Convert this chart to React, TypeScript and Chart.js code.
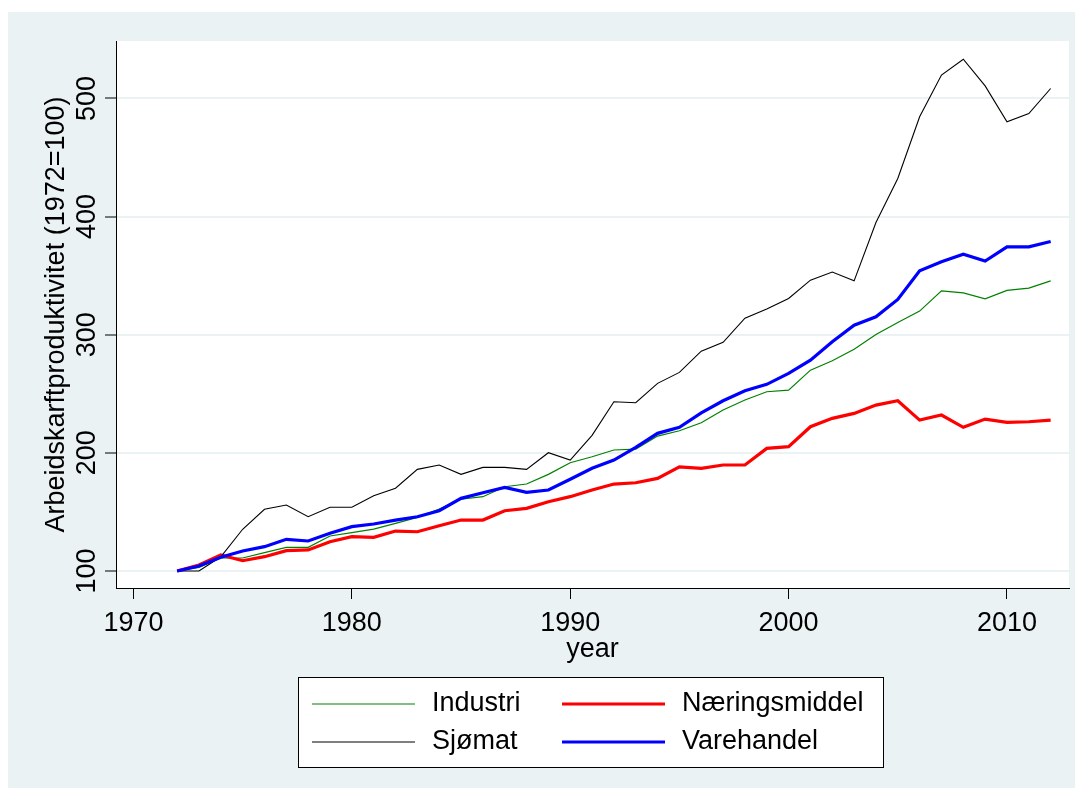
import React, { useEffect, useRef } from "react";
import { Chart, registerables } from "chart.js";

Chart.register(...registerables);

const years: number[] = [];
for (let y = 1972; y <= 2012; y++) years.push(y);

const industri = [100, 103, 111, 111, 115.5, 120, 120, 129.6, 132.4, 135.5, 140.3, 145.4, 152.5, 160.7, 162.9, 171.3, 173.6, 181.8, 191.6, 196.7, 202.4, 203.2, 214.2, 218.7, 225.5, 236.2, 244.7, 251.7, 253.1, 270, 277.9, 287.6, 300.2, 310.4, 320, 337.1, 335.4, 330.4, 337.5, 339.4, 345.6];
const naeringsmiddel = [100, 105.1, 113.5, 108.7, 112.1, 117.2, 117.8, 124.8, 129, 128.5, 133.8, 133.2, 138.3, 143.1, 143.1, 151, 153, 158.6, 162.9, 168.5, 173.6, 174.7, 178.4, 188.2, 186.9, 189.7, 189.7, 203.8, 205.2, 222.1, 229.2, 233.4, 240.4, 244.1, 227.7, 232, 221.6, 228.6, 225.8, 226.3, 227.7];
const sjomat = [100, 100, 112, 135.3, 152.2, 155.8, 145.9, 153.9, 153.9, 163.7, 170, 186, 189.7, 181.8, 187.7, 187.7, 186, 200.1, 193.9, 214.8, 243.2, 242.4, 258.8, 268.1, 286.1, 293.5, 314, 321.7, 330.7, 346.2, 353, 345.6, 395, 432.2, 484.5, 519.8, 533.2, 510.6, 480.2, 487.2, 508.4];
const varehandel = [100, 104.2, 111.6, 116.9, 120.6, 126.8, 125.4, 131.9, 137.5, 139.8, 143.1, 145.9, 151, 161.5, 166.2, 170.8, 166.6, 168.5, 177.6, 186.9, 193.9, 204.7, 216.5, 221.6, 233.9, 244.1, 252.5, 258, 267.2, 278.5, 294, 308.1, 315.2, 329.9, 354.1, 361.7, 368.2, 362.3, 374.4, 374.4, 378.9];

const xTicks = [1970, 1980, 1990, 2000, 2010];
const yTicks = [100, 200, 300, 400, 500];

const yTitle = "Arbeidskarftproduktivitet (1972=100)";
const xTitle = "year";

const seriesNames = ["Industri", "Næringsmiddel", "Sjømat", "Varehandel"];
const seriesColors = ["rgb(0,128,0)", "rgb(255,0,0)", "rgb(0,0,0)", "rgb(0,0,255)"];
const seriesWidths = [1.2, 3.2, 1.1, 3.2];

const BG = "#EAF2F3";
const FONT = '27px "Liberation Sans", Arial, sans-serif';

export default function App() {
  const ref = useRef<HTMLCanvasElement | null>(null);

  useEffect(() => {
    const canvas = ref.current;
    if (!canvas) return;
    const allSeries = [industri, naeringsmiddel, sjomat, varehandel];
    const drawOrder = [3, 2, 1, 0];

    const decor = {
      id: "decor",
      beforeDraw(chart: any) {
        const ctx = chart.ctx;
        const a = chart.chartArea;
        ctx.save();
        ctx.fillStyle = "#ffffff";
        ctx.fillRect(0, 0, chart.width, chart.height);
        ctx.fillStyle = BG;
        ctx.fillRect(8, 12, 1067, 776);
        ctx.fillStyle = "#ffffff";
        ctx.fillRect(a.left, a.top, a.right - a.left, a.bottom - a.top);
        ctx.restore();
      },
      afterDraw(chart: any) {
        const ctx = chart.ctx;
        const xs = chart.scales.x;
        const ys = chart.scales.y;
        const a = chart.chartArea;
        ctx.save();
        ctx.fillStyle = "#000";
        ctx.font = FONT;
        // x tick labels
        ctx.textAlign = "center";
        ctx.textBaseline = "alphabetic";
        xTicks.forEach((v) => {
          ctx.fillText(String(v), xs.getPixelForValue(v), 631);
        });
        ctx.fillText(xTitle, (a.left + a.right) / 2, 657);
        // y tick labels (rotated)
        yTicks.forEach((v) => {
          ctx.save();
          ctx.translate(95, ys.getPixelForValue(v));
          ctx.rotate(-Math.PI / 2);
          ctx.fillText(String(v), 0, 0);
          ctx.restore();
        });
        ctx.save();
        ctx.translate(64, (a.top + a.bottom) / 2);
        ctx.rotate(-Math.PI / 2);
        ctx.fillText(yTitle, 0, 0);
        ctx.restore();

        // legend
        ctx.fillStyle = "#fff";
        ctx.fillRect(298, 677, 586, 91);
        ctx.strokeStyle = "#000";
        ctx.lineWidth = 1;
        ctx.strokeRect(298.5, 677.5, 585, 90);
        const cols = [312, 562];
        const rows = [704, 742];
        for (let i = 0; i < 4; i++) {
          const col = i % 2;
          const row = Math.floor(i / 2);
          const lx = cols[col];
          const ly = rows[row];
          ctx.strokeStyle = seriesColors[i];
          ctx.lineWidth = seriesWidths[i];
          ctx.beginPath();
          ctx.moveTo(lx, ly);
          ctx.lineTo(lx + 103, ly);
          ctx.stroke();
          ctx.fillStyle = "#000";
          ctx.textAlign = "left";
          ctx.textBaseline = "middle";
          ctx.fillText(seriesNames[i], lx + 120, ly);
        }
        ctx.restore();
      },
    };

    const datasets = allSeries.map((s, i) => ({
      label: seriesNames[i],
      data: years.map((yr, k) => ({ x: yr, y: s[k] })),
      borderColor: seriesColors[i],
      borderWidth: seriesWidths[i],
      pointRadius: 0,
      fill: false,
      tension: 0,
      order: drawOrder[i],
    }));

    const chart = new Chart(canvas, {
      type: "line",
      data: { datasets },
      options: {
        responsive: false,
        animation: false,
        devicePixelRatio: 1,
        layout: { padding: { left: 0, top: 41, right: 14, bottom: 0 } },
        plugins: { legend: { display: false }, tooltip: { enabled: false }, title: { display: false } },
        scales: {
          x: {
            type: "linear",
            min: 1969.2,
            max: 2012.84,
            afterBuildTicks: (s: any) => {
              s.ticks = xTicks.map((v) => ({ value: v }));
            },
            afterFit: (s: any) => {
              s.height = 208;
            },
            ticks: { display: false },
            grid: { display: true, drawOnChartArea: false, drawTicks: true, tickLength: 11, tickColor: "#000", tickWidth: 1 },
            border: { display: true, color: "#000", width: 1 },
          },
          y: {
            type: "linear",
            min: 85.6,
            max: 548.6,
            afterBuildTicks: (s: any) => {
              s.ticks = yTicks.map((v) => ({ value: v }));
            },
            afterFit: (s: any) => {
              s.width = 116;
            },
            ticks: { display: false },
            grid: { color: BG, lineWidth: 2, drawTicks: true, tickLength: 11, tickColor: "#000", tickWidth: 1 },
            border: { display: true, color: "#000", width: 1 },
          },
        },
      } as any,
      plugins: [decor],
    });
    return () => chart.destroy();
  }, []);

  return (
    <div style={{ position: "absolute", left: 0, top: 0, width: 1083, height: 796 }}>
      <canvas ref={ref} width={1083} height={796} style={{ width: 1083, height: 796, display: "block" }} />
    </div>
  );
}
